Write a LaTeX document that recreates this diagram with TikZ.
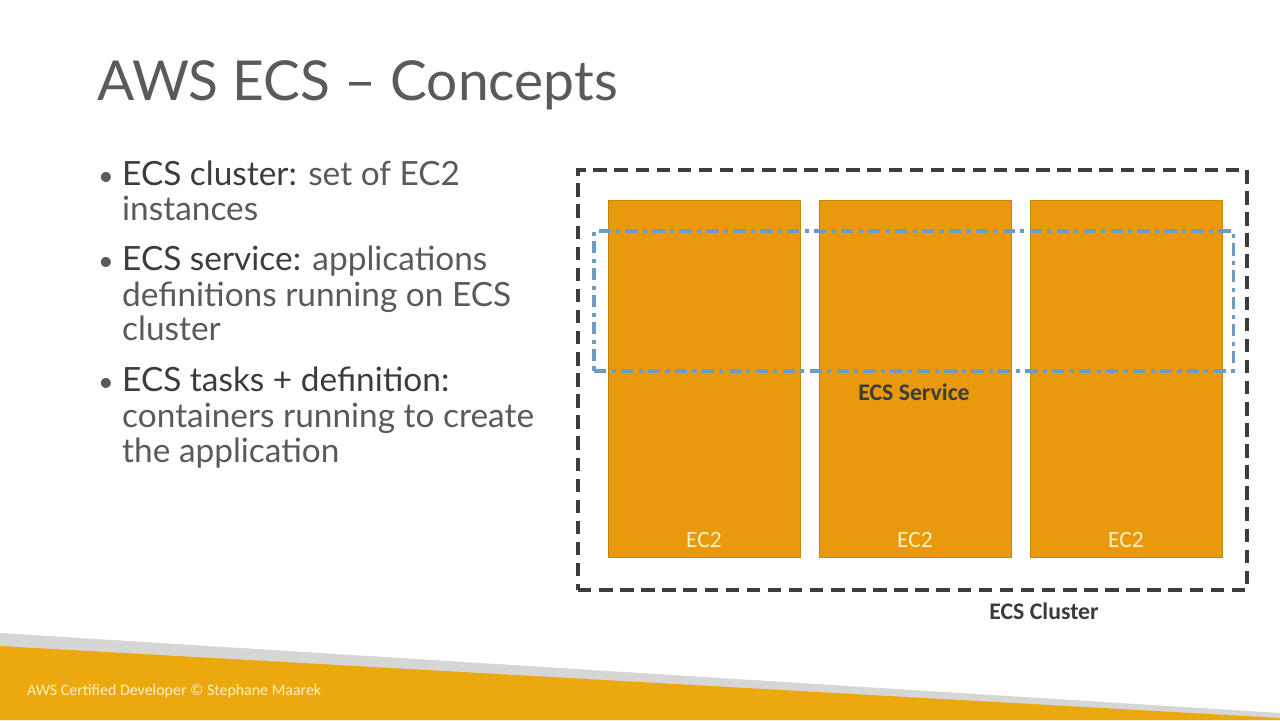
\documentclass[tikz,border=0pt]{standalone}
\usepackage{fontspec}
\setmainfont{Lato}
\newfontfamily\calfont{Carlito}
\usetikzlibrary{positioning}
\definecolor{slidegray}{HTML}{5A5A5A}
\definecolor{keygray}{HTML}{3C3C3C}
\definecolor{ecorange}{HTML}{E8990C}
\definecolor{ecedge}{HTML}{C4850C}
\definecolor{svcblue}{HTML}{6A9CC6}
\definecolor{barorange}{HTML}{EBA90F}
\definecolor{bargray}{HTML}{D6D6D6}
\definecolor{paleyellow}{HTML}{FFF1C2}
\tikzset{title/.style={anchor=base west,inner sep=0pt,text=slidegray,font=\fontsize{47}{53}\selectfont},
 line/.style={anchor=base west,inner sep=0pt,text=slidegray,font=\fontsize{28.5}{32}\selectfont},
 dot/.style={line,font=\fontsize{23}{32}\selectfont},
 ec2box/.style={draw=ecedge,fill=ecorange,line width=0.6pt,inner sep=0pt,minimum width=5.76cm,minimum height=10.71cm},
 ec2lbl/.style={anchor=base,inner sep=0pt,text=paleyellow,font=\calfont\fontsize{20}{24}\selectfont},
 grouplbl/.style={anchor=base,inner sep=0pt,text=keygray,font=\calfont\bfseries\fontsize{20.3}{24}\selectfont},
 clusterbox/.style={draw=keygray,line width=3.4pt,dash pattern=on 11.5pt off 6.5pt,inner sep=0pt,minimum width=20.07cm,minimum height=12.6cm},
 servicebox/.style={draw=svcblue,line width=2.6pt,dash pattern=on 10.5pt off 4.5pt on 3.5pt off 4.5pt,inner sep=0pt,minimum width=19.17cm,minimum height=4.2cm},
 footer/.style={anchor=base west,inner sep=0pt,text=paleyellow,font=\calfont\fontsize{13.6}{16}\selectfont}}
\newcommand{\bul}[2]{\node[dot](#1) at(98,#2){\textbullet};}

\begin{document}
\begin{tikzpicture}[x=0.03cm,y=-0.03cm]
\useasboundingbox(0,0) rectangle (1280,720);
\fill[white](0,0) rectangle (1280,720);
% footer band
\fill[bargray](0,633)--(1280,713)--(1280,720)--(0,720)--cycle;
\fill[barorange](0,646)--(1280,718)--(1280,720)--(0,720)--cycle;
\node[footer](foot) at(27,695){AWS Certified Developer © Stephane Maarek};
\node[footer,anchor=base east,font=\calfont\fontsize{8}{10}\selectfont,text=white,opacity=0.8](udemy) at(1274,708){Udemy};
% title and bullets
\node[title](ttl) at(97,100){AWS ECS – Concepts};
\bul{b1}{185}
\node[line](l1) at(122,185){{\color{keygray}ECS cluster:} set of EC2};
\node[line](l2) at(122,220){instances};
\bul{b2}{270}
\node[line](l3) at(122,270){{\color{keygray}ECS service:} applications};
\node[line](l4) at(122,306){definitions running on ECS};
\node[line](l5) at(122,340){cluster};
\bul{b3}{391}
\node[line](l6) at(122,391){{\color{keygray}ECS tasks + definition:}};
\node[line](l7) at(122,427){containers running to create};
\node[line](l8) at(122,462){the application};
% diagram
\node[clusterbox](cluster) at(912.5,380){};
\node[ec2box](ec2a) at(704,378.5){};
\node[ec2box](ec2b) at(915,378.5){};
\node[ec2box](ec2c) at(1126,378.5){};
\node[ec2lbl](lbla) at(704,547){EC2};
\node[ec2lbl](lblb) at(915,547){EC2};
\node[ec2lbl](lblc) at(1126,547){EC2};
\node[servicebox](service) at(913.5,301){};
\node[grouplbl](svclbl) at(914,400){ECS Service};
\node[grouplbl](clulbl) at(1044,619){ECS Cluster};
\end{tikzpicture}
\end{document}
